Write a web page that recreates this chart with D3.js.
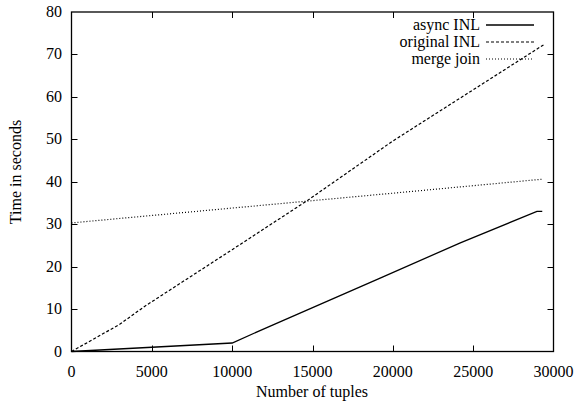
<!DOCTYPE html>
<html>
<head>
<meta charset="utf-8">
<script src="https://cdn.jsdelivr.net/npm/d3@7"></script>
<style>
  body { margin: 0; background: #fff; }
  svg { display: block; }
  text { font-family: "Liberation Serif", "Times New Roman", serif; font-size: 16px; fill: #000; }
</style>
</head>
<body>
<svg id="chart" width="576" height="405"></svg>
<script>
// [tuples, seconds]
var asyncInl = [[0, 0], [10000, 2], [12370, 6], [19210, 17.3], [24200, 25.6], [28970, 33], [29300, 33]];
var originalInl = [[0, 0], [3000, 6.4], [4500, 10.5], [10000, 24], [14650, 35.5], [20000, 49.6], [20500, 50.8], [29400, 72.3]];
var mergeJoin = [[0, 30.3], [10000, 33.8], [20000, 37.3], [29300, 40.6]];

var seriesNames = ["async INL", "original INL", "merge join"];
var xTicks = [0, 5000, 10000, 15000, 20000, 25000, 30000];
var yTicks = [0, 10, 20, 30, 40, 50, 60, 70, 80];

var svg = d3.select("#chart"),
    mLeft = 71.5, mRight = 553.5, mTop = 12, mBottom = 351.5;

var x = d3.scaleLinear().domain([0, 30000]).range([mLeft, mRight]);
var y = d3.scaleLinear().domain([0, 80]).range([mBottom, mTop]);

var tick = 6;

// ticks on all four sides, pointing inwards (gnuplot style)
var g = svg.append("g").attr("stroke", "#000").attr("stroke-width", 1);
xTicks.forEach(function (t) {
    var px = Math.round(x(t)) + 0.5;
    if (t > 0 && t < 30000) {
        g.append("line").attr("x1", px).attr("x2", px).attr("y1", mBottom).attr("y2", mBottom - tick);
        g.append("line").attr("x1", px).attr("x2", px).attr("y1", mTop).attr("y2", mTop + tick);
    }
});
yTicks.forEach(function (t) {
    var py = Math.round(y(t)) + 0.5;
    if (t > 0 && t < 80) {
        g.append("line").attr("x1", mLeft).attr("x2", mLeft + tick).attr("y1", py).attr("y2", py);
        g.append("line").attr("x1", mRight).attr("x2", mRight - tick).attr("y1", py).attr("y2", py);
    }
});

svg.selectAll(".xlab").data(xTicks).enter().append("text")
    .attr("x", function (d) { return x(d); })
    .attr("y", 377)
    .attr("text-anchor", "middle")
    .text(function (d) { return d; });

svg.selectAll(".ylab").data(yTicks).enter().append("text")
    .attr("x", 62)
    .attr("y", function (d) { return y(d) + 5; })
    .attr("text-anchor", "end")
    .text(function (d) { return d; });

svg.append("text").attr("x", 312).attr("y", 397).attr("text-anchor", "middle").text("Number of tuples");
svg.append("text")
    .attr("transform", "translate(21,172) rotate(-90)")
    .attr("text-anchor", "middle")
    .text("Time in seconds");

var line = d3.line().x(function (d) { return x(d[0]); }).y(function (d) { return y(d[1]); });

var styles = [
    {data: asyncInl, dash: null, width: 1.3},
    {data: originalInl, dash: "3,2", width: 1.2},
    {data: mergeJoin, dash: "1,2", width: 1.2}
];

styles.forEach(function (s) {
    svg.append("path")
        .attr("d", line(s.data))
        .attr("fill", "none")
        .attr("stroke", "#000")
        .attr("stroke-width", s.width)
        .attr("stroke-dasharray", s.dash);
});

// legend
styles.forEach(function (s, i) {
    var ly = 25 + i * 17;
    svg.append("text").attr("x", 480).attr("y", ly + 5).attr("text-anchor", "end").text(seriesNames[i]);
    svg.append("line")
        .attr("x1", 486).attr("x2", 534).attr("y1", ly).attr("y2", ly)
        .attr("stroke", "#000").attr("stroke-width", s.width)
        .attr("stroke-dasharray", s.dash);
});

// frame
svg.append("rect")
    .attr("x", mLeft).attr("y", mTop)
    .attr("width", mRight - mLeft).attr("height", mBottom - mTop)
    .attr("fill", "none").attr("stroke", "#000").attr("stroke-width", 1.3);
</script>
</body>
</html>
